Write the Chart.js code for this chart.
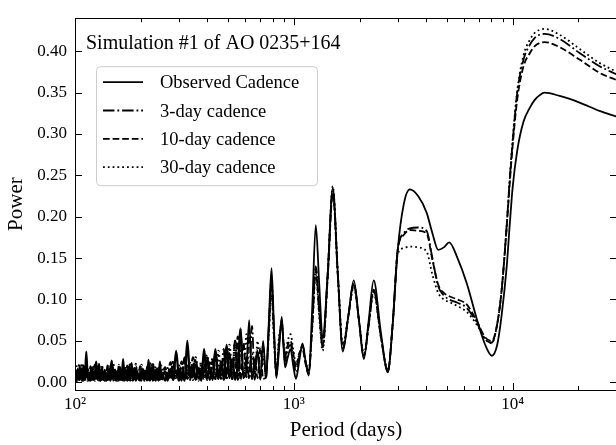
<!DOCTYPE html>
<html>
<head>
<meta charset="utf-8">
<script src="https://cdn.jsdelivr.net/npm/chart.js@4.4.1/dist/chart.umd.min.js"></script>
<style>
  html, body { margin: 0; padding: 0; background: #fff; overflow: hidden; }
  canvas { display: block; }
</style>
</head>
<body>
<canvas id="chart" width="620" height="445"></canvas>
<script>
// periods (days): dense part below ~800 d, then the smoother long-period part
const periodsShort = [
  100, 101.5, 103, 104.6, 106.1, 107.7, 109.3, 111, 112.6, 114.3,
  116, 117.8, 119.6, 121.4, 123.2, 125, 126.9, 128.8, 130.7, 132.7,
  134.7, 136.7, 138.7, 140.8, 142.9, 145.1, 147.3, 149.5, 151.7, 154,
  156.3, 158.6, 161, 163.4, 165.9, 168.4, 170.9, 173.4, 176, 178.7,
  181.4, 184.1, 186.8, 189.6, 192.5, 195.4, 198.3, 201.3, 204.3, 207.4,
  210.5, 213.6, 216.8, 220.1, 223.4, 226.7, 230.1, 233.6, 237.1, 240.7,
  244.3, 248,
  258, 265, 273, 281, 290, 299, 307, 317,
  326, 336, 346, 356, 367, 378, 389, 401, 413, 426,
  438, 452, 465, 479, 493, 508, 523, 539, 555, 572,
  589, 607, 625, 644, 663, 683, 703, 724, 746, 768,
  791
];
const periodsLong = [
  812, 832, 856, 881, 897, 912, 938, 966, 994, 1023,
  1058, 1096, 1132, 1170, 1214, 1260, 1306, 1355, 1428, 1507,
  1590, 1675, 1775, 1880, 1985, 2090, 2200, 2318, 2500, 2690,
  2830, 2985, 3180, 3390, 3700, 4045, 4300, 4570, 4850, 5130,
  5600, 6166, 6920, 7500, 8035, 8500, 8900, 9400, 9700, 10000,
  10500, 11220, 12000, 12600, 13300, 14000, 16400, 20230, 24950, 30000
];

// power, observed cadence
const observedShort = [
  0.01, 0.002, 0.016, 0.003, 0.009, 0.002, 0.02, 0.003, 0.037, 0.004,
  0.012, 0.002, 0.018, 0.003, 0.008, 0.025, 0.003, 0.022, 0.002, 0.011,
  0.003, 0.015, 0.002, 0.009, 0.003, 0.014, 0.026, 0.002, 0.012, 0.003,
  0.008, 0.002, 0.016, 0.003, 0.028, 0.002, 0.01, 0.003, 0.014, 0.002,
  0.023, 0.003, 0.009, 0.002, 0.013, 0.003, 0.011, 0.002, 0.016, 0.003,
  0.009, 0.002, 0.027, 0.003, 0.012, 0.002, 0.014, 0.003, 0.009, 0.002,
  0.025, 0.004,
  0.013, 0.002, 0.016, 0.003, 0.038, 0.004, 0.012, 0.002,
  0.05, 0.005, 0.02, 0.003, 0.015, 0.002, 0.04, 0.004, 0.018, 0.003,
  0.04, 0.006, 0.022, 0.004, 0.045, 0.005, 0.028, 0.003, 0.02, 0.065,
  0.006, 0.015, 0.075, 0.004, 0.02, 0.038, 0.003, 0.05, 0.005, 0.07,
  0.138
];
const observedLong = [
  0.065, 0.005, 0.04, 0.079, 0.045, 0.018, 0.03, 0.04, 0.02, 0.004,
  0.025, 0.047, 0.025, 0.008, 0.09, 0.19, 0.12, 0.053, 0.13, 0.235,
  0.13, 0.037, 0.08, 0.123, 0.075, 0.028, 0.075, 0.123, 0.06, 0.012,
  0.07, 0.16, 0.215, 0.233, 0.225, 0.205, 0.18, 0.16, 0.163, 0.169,
  0.15, 0.12, 0.073, 0.045, 0.032, 0.045, 0.08, 0.14, 0.19, 0.235,
  0.28, 0.315, 0.332, 0.341, 0.347, 0.35, 0.346, 0.338, 0.328, 0.321
];

// power, 3-day cadence
const day3Short = [
  0.003, 0.014, 0.002, 0.022, 0.003, 0.01, 0.002, 0.017, 0.004, 0.012,
  0.002, 0.019, 0.003, 0.011, 0.002, 0.015, 0.003, 0.009, 0.002, 0.018,
  0.003, 0.012, 0.002, 0.02, 0.003, 0.01, 0.002, 0.016, 0.003, 0.013,
  0.002, 0.021, 0.003, 0.011, 0.002, 0.017, 0.003, 0.02, 0.002, 0.012,
  0.003, 0.016, 0.002, 0.022, 0.003, 0.01, 0.002, 0.018, 0.003, 0.014,
  0.002, 0.019, 0.003, 0.012, 0.002, 0.024, 0.003, 0.015, 0.002, 0.017,
  0.003, 0.014,
  0.002, 0.01, 0.004, 0.026, 0.003, 0.016, 0.002, 0.03,
  0.004, 0.018, 0.003, 0.028, 0.002, 0.022, 0.004, 0.032, 0.003, 0.026,
  0.005, 0.02, 0.004, 0.04, 0.003, 0.035, 0.004, 0.05, 0.003, 0.06,
  0.005, 0.03, 0.004, 0.068, 0.003, 0.04, 0.004, 0.045, 0.005, 0.065,
  0.125
];
const day3Long = [
  0.06, 0.008, 0.045, 0.075, 0.045, 0.025, 0.04, 0.045, 0.03, 0.012,
  0.03, 0.045, 0.025, 0.012, 0.07, 0.14, 0.09, 0.042, 0.13, 0.232,
  0.13, 0.04, 0.08, 0.12, 0.075, 0.03, 0.07, 0.11, 0.055, 0.013,
  0.07, 0.16, 0.18, 0.186, 0.187, 0.183, 0.15, 0.116, 0.105, 0.1,
  0.096, 0.09, 0.07, 0.052, 0.048, 0.07, 0.11, 0.19, 0.245, 0.29,
  0.35, 0.39, 0.408, 0.416, 0.42, 0.421, 0.415, 0.398, 0.382, 0.372
];

// power, 10-day cadence
const day10Short = [
  0.015, 0.002, 0.011, 0.003, 0.019, 0.002, 0.013, 0.003, 0.024, 0.002,
  0.01, 0.003, 0.016, 0.002, 0.021, 0.003, 0.012, 0.002, 0.017, 0.003,
  0.011, 0.002, 0.014, 0.003, 0.019, 0.002, 0.01, 0.003, 0.016, 0.002,
  0.013, 0.003, 0.018, 0.002, 0.011, 0.003, 0.015, 0.002, 0.02, 0.003,
  0.012, 0.002, 0.017, 0.003, 0.01, 0.002, 0.019, 0.003, 0.013, 0.002,
  0.016, 0.003, 0.011, 0.002, 0.02, 0.003, 0.014, 0.002, 0.018, 0.003,
  0.012, 0.002,
  0.018, 0.004, 0.024, 0.003, 0.014, 0.002, 0.025, 0.004,
  0.02, 0.003, 0.03, 0.002, 0.017, 0.004, 0.028, 0.003, 0.024, 0.005,
  0.035, 0.004, 0.025, 0.003, 0.042, 0.005, 0.028, 0.004, 0.055, 0.003,
  0.048, 0.006, 0.062, 0.004, 0.028, 0.005, 0.042, 0.004, 0.006, 0.06,
  0.118
];
const day10Long = [
  0.055, 0.01, 0.05, 0.07, 0.048, 0.03, 0.045, 0.05, 0.035, 0.018,
  0.035, 0.04, 0.022, 0.01, 0.068, 0.135, 0.085, 0.045, 0.125, 0.228,
  0.128, 0.042, 0.08, 0.118, 0.075, 0.032, 0.07, 0.112, 0.055, 0.014,
  0.07, 0.16, 0.178, 0.184, 0.183, 0.18, 0.148, 0.118, 0.108, 0.104,
  0.1, 0.094, 0.072, 0.054, 0.05, 0.07, 0.11, 0.188, 0.24, 0.285,
  0.342, 0.382, 0.398, 0.406, 0.41, 0.411, 0.405, 0.39, 0.374, 0.365
];

// power, 30-day cadence
const day30Short = [
  0.006, 0.019, 0.004, 0.012, 0.005, 0.023, 0.003, 0.014, 0.006, 0.018,
  0.004, 0.011, 0.005, 0.02, 0.003, 0.013, 0.006, 0.016, 0.004, 0.021,
  0.005, 0.012, 0.003, 0.017, 0.006, 0.014, 0.004, 0.022, 0.005, 0.011,
  0.003, 0.018, 0.006, 0.013, 0.004, 0.02, 0.005, 0.015, 0.003, 0.024,
  0.006, 0.012, 0.004, 0.019, 0.005, 0.014, 0.003, 0.021, 0.006, 0.013,
  0.004, 0.017, 0.005, 0.023, 0.003, 0.015, 0.006, 0.019, 0.004, 0.012,
  0.005, 0.02,
  0.005, 0.017, 0.003, 0.024, 0.006, 0.02, 0.004, 0.028,
  0.005, 0.023, 0.004, 0.03, 0.006, 0.025, 0.004, 0.033, 0.005, 0.03,
  0.004, 0.038, 0.006, 0.03, 0.005, 0.045, 0.004, 0.05, 0.006, 0.04,
  0.005, 0.058, 0.004, 0.035, 0.006, 0.05, 0.005, 0.03, 0.008, 0.055,
  0.105
];
const day30Long = [
  0.05, 0.015, 0.055, 0.065, 0.05, 0.035, 0.05, 0.058, 0.04, 0.022,
  0.033, 0.042, 0.025, 0.015, 0.065, 0.13, 0.08, 0.038, 0.13, 0.237,
  0.13, 0.045, 0.08, 0.115, 0.075, 0.034, 0.07, 0.108, 0.055, 0.015,
  0.068, 0.155, 0.162, 0.164, 0.163, 0.158, 0.13, 0.108, 0.1, 0.097,
  0.092, 0.085, 0.068, 0.052, 0.047, 0.07, 0.11, 0.19, 0.245, 0.292,
  0.352, 0.395, 0.414, 0.422, 0.426, 0.427, 0.42, 0.403, 0.386, 0.375
];

const seriesNames = ['Observed Cadence', '3-day cadence', '10-day cadence', '30-day cadence'];
const periodTicks = [100, 200, 300, 400, 500, 600, 700, 800, 900,
  1000, 2000, 3000, 4000, 5000, 6000, 7000, 8000, 9000, 10000, 20000];
const periodLabels = { 100: '10²', 1000: '10³', 10000: '10⁴' };
const powerTicks = [0, 0.05, 0.1, 0.15, 0.2, 0.25, 0.3, 0.35, 0.4];
const titleText = 'Simulation #1 of AO 0235+164';

const LW = 1.8;
const dashes = [[], [11.5, 2.9, 1.8, 2.9], [6.7, 2.9], [1.8, 3]];
const serif = 'Liberation Serif';

const periods = periodsShort.concat(periodsLong);
function toPoints(vals) {
  return periods.map((p, i) => ({ x: p, y: vals[i] }));
}
const allSeries = [
  observedShort.concat(observedLong),
  day3Short.concat(day3Long),
  day10Short.concat(day10Long),
  day30Short.concat(day30Long)
];

// frame, inward ticks, title text and legend box (matplotlib look)
const decorations = {
  id: 'decorations',
  afterDatasetsDraw(chart) {
    const { ctx, chartArea: a, scales } = chart;
    ctx.save();
    ctx.strokeStyle = '#000';
    ctx.lineWidth = 1;
    ctx.setLineDash([]);
    ctx.beginPath();
    scales.y.ticks.forEach(t => {
      const y = Math.round(scales.y.getPixelForValue(t.value)) + 0.5;
      ctx.moveTo(a.left, y); ctx.lineTo(a.left + 7, y);
      ctx.moveTo(a.right, y); ctx.lineTo(a.right - 7, y);
    });
    scales.x.ticks.forEach(t => {
      const len = periodLabels[t.value] ? 7 : 4;
      const x = Math.round(scales.x.getPixelForValue(t.value)) + 0.5;
      ctx.moveTo(x, a.bottom); ctx.lineTo(x, a.bottom - len);
      ctx.moveTo(x, a.top); ctx.lineTo(x, a.top + len);
    });
    ctx.stroke();
    ctx.strokeRect(Math.round(a.left) + 0.5, Math.round(a.top) + 0.5,
      Math.round(a.right - a.left), Math.round(a.bottom - a.top));

    // title inside the axes
    ctx.fillStyle = '#000';
    ctx.font = '20px "' + serif + '"';
    ctx.textBaseline = 'alphabetic';
    ctx.textAlign = 'left';
    ctx.fillText(titleText, a.left + 11, a.top + 31);

    // legend
    const bx = a.left + 21, by = a.top + 48, bw = 221, bh = 119;
    ctx.beginPath();
    ctx.roundRect(bx + 0.5, by + 0.5, bw, bh, 4);
    ctx.fillStyle = 'rgba(255,255,255,0.8)';
    ctx.fill();
    ctx.strokeStyle = '#cccccc';
    ctx.stroke();
    ctx.font = '18.5px "' + serif + '"';
    seriesNames.forEach((name, i) => {
      const ly = by + 16 + i * 28.3;
      ctx.strokeStyle = '#000';
      ctx.lineWidth = LW;
      ctx.setLineDash(dashes[i]);
      ctx.beginPath();
      ctx.moveTo(bx + 7, ly);
      ctx.lineTo(bx + 47, ly);
      ctx.stroke();
      ctx.fillStyle = '#000';
      ctx.fillText(name, bx + 64, ly + 6);
    });
    ctx.restore();
  }
};

new Chart(document.getElementById('chart'), {
  type: 'line',
  data: {
    datasets: allSeries.map((vals, i) => ({
      label: seriesNames[i],
      data: toPoints(vals),
      borderColor: '#000',
      borderWidth: LW,
      borderDash: dashes[i],
      borderCapStyle: 'butt',
      pointRadius: 0,
      fill: false,
      cubicInterpolationMode: 'monotone',
      // the short-period forest is drawn a bit heavier, as in the original
      segment: { borderWidth: ctx => ctx.p0.parsed.x < 560 ? 2.3 : LW }
    }))
  },
  options: {
    responsive: false,
    animation: false,
    devicePixelRatio: 1,
    layout: { padding: { top: 7, right: 3, left: 0, bottom: 0 } },
    plugins: { legend: { display: false }, tooltip: { enabled: false } },
    scales: {
      x: {
        type: 'logarithmic',
        min: 100,
        max: 30000,
        grid: { display: false, drawTicks: false },
        border: { display: false },
        afterFit(s) { s.height = 55; },
        afterBuildTicks(s) { s.ticks = periodTicks.map(v => ({ value: v })); },
        ticks: {
          autoSkip: false,
          maxRotation: 0,
          padding: 4,
          color: '#000',
          font: { family: serif, size: 17 },
          callback: v => periodLabels[v] || ''
        },
        title: {
          display: true,
          text: 'Period (days)',
          color: '#000',
          font: { family: serif, size: 21 },
          padding: { top: 0, bottom: 2 }
        }
      },
      y: {
        min: -0.0094,
        max: 0.44,
        grid: { display: false, drawTicks: false },
        border: { display: false },
        afterFit(s) { s.width = 75; },
        afterBuildTicks(s) { s.ticks = powerTicks.map(v => ({ value: v })); },
        ticks: {
          padding: 8,
          color: '#000',
          font: { family: serif, size: 17 },
          callback: v => v.toFixed(2)
        },
        title: {
          display: true,
          text: 'Power',
          color: '#000',
          font: { family: serif, size: 21 },
          padding: { top: 4, bottom: 0 }
        }
      }
    }
  },
  plugins: [decorations]
});
</script>
</body>
</html>
